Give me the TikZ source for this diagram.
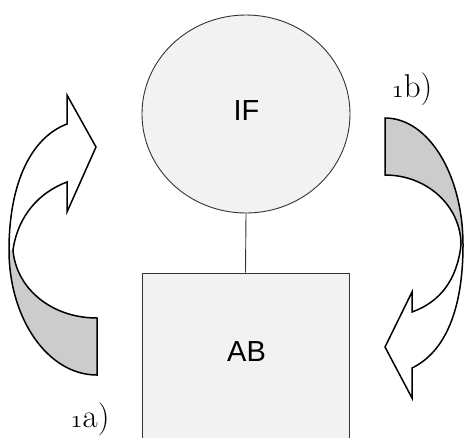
\documentclass[tikz,border=0pt]{standalone}
\usepackage{fontspec}
\newfontfamily\arialfont{Liberation Sans}
\usetikzlibrary{shapes.geometric}
\definecolor{shapefill}{HTML}{F2F2F2}
\definecolor{ribbongray}{HTML}{CCCCCC}
\definecolor{shapeline}{HTML}{333333}
\newcommand{\osone}{{\usefont{OML}{cmm}{m}{it}1}}
\begin{document}
\begin{tikzpicture}[x=1pt,y=-1pt,
  boxshape/.style={draw=shapeline, line width=0.9pt, fill=shapefill, inner sep=0pt},
  sanslabel/.style={font=\arialfont\fontsize{29}{32}\selectfont, inner sep=0pt},
  seriflabel/.style={font=\fontsize{33}{36}\selectfont, inner sep=0pt},
  ribbonline/.style={draw=black, line width=1.5pt, line join=miter},
  ribbonback/.style={fill=ribbongray},
  ribbonfront/.style={fill=white}
]
\useasboundingbox (0,0) rectangle (465,437);
\fill[white] (0,0) rectangle (465,437);

% square (runs past the lower edge)
\begin{scope}
\clip (0,0) rectangle (465,437);
\node[boxshape, rectangle, minimum width=207pt, minimum height=184pt] (ab) at (245.5,365) {};
\end{scope}
\node[sanslabel] (abtext) at (246.5,351.5) {AB};

% circle
\node[boxshape, ellipse, minimum width=208pt, minimum height=198pt] (if) at (246,114) {};
\node[sanslabel] (iftext) at (246.5,110.5) {IF};

\draw[draw=shapeline, line width=0.9pt] (if.south) -- (ab.north);

% left ribbon arrow (1a)
\fill[ribbonback] (97,375) .. controls (48,375) and (9,319) .. (9,250) -- (13,250)
  .. controls (16,288) and (51,318) .. (97,318) -- cycle;
\fill[ribbonfront] (9,250) .. controls (9,185) and (30,138) .. (67,124) -- (67,95) -- (96,147)
  -- (67,212) -- (67,182) .. controls (40,192) and (18,215) .. (13,250) -- cycle;
\draw[ribbonline] (97,318) -- (97,375) .. controls (48,375) and (9,319) .. (9,250)
  .. controls (9,185) and (30,138) .. (67,124) -- (67,95) -- (96,147) -- (67,212) -- (67,182)
  .. controls (40,192) and (18,215) .. (13,250) .. controls (16,288) and (51,318) .. (97,318) -- cycle;

% right ribbon arrow (1b)
\fill[ribbonback] (385,118) .. controls (428,118) and (463,174) .. (463,245) -- (461,245)
  .. controls (461,206) and (427,175) .. (385,175) -- cycle;
\fill[ribbonfront] (463,245) .. controls (463,310) and (445,352) .. (412,368) -- (412,398) -- (385,347)
  -- (412,292) -- (412,312) .. controls (440,302) and (457,280) .. (461,245) -- cycle;
\draw[ribbonline] (385,175) -- (385,118) .. controls (428,118) and (463,174) .. (463,245)
  .. controls (463,310) and (445,352) .. (412,368) -- (412,398) -- (385,347) -- (412,292) -- (412,312)
  .. controls (440,302) and (457,280) .. (461,245) .. controls (461,206) and (427,175) .. (385,175) -- cycle;

% labels
\node[seriflabel] (la) at (90,419) {\osone a)};
\node[seriflabel] (lb) at (412,89) {\osone b)};
\end{tikzpicture}
\end{document}
